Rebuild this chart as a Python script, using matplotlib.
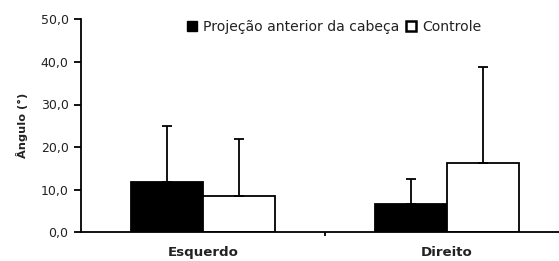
import numpy as np
import matplotlib
matplotlib.use("Agg")
import matplotlib.pyplot as plt
from matplotlib.patches import Patch

plt.rcParams['font.family'] = ['DejaVu Sans']

# Data
categories = ["Esquerdo", "Direito"]
projecao = [11.7, 6.6]
projecao_err = [13.2, 5.8]
controle = [8.5, 16.2]
controle_err = [13.3, 22.5]

fig = plt.figure(figsize=(5.59, 2.61), dpi=100)
ax = fig.add_axes([81/559, 28.7/261, 488/559, 213/261])

x = np.array([0.5, 1.5])
w = 0.295
lw = 1.3

ax.bar(x - w, projecao, w, align='edge', color='black', edgecolor='black', linewidth=lw)
ax.bar(x, controle, w, align='edge', color='white', edgecolor='black', linewidth=lw)
ax.errorbar(x - w/2, projecao, yerr=[np.zeros(2), projecao_err], fmt='none',
            ecolor='black', elinewidth=lw, capsize=3.6, capthick=lw)
ax.errorbar(x + w/2, controle, yerr=[np.zeros(2), controle_err], fmt='none',
            ecolor='black', elinewidth=lw, capsize=3.6, capthick=lw)

ax.set_xlim(0, 2)
ax.set_ylim(0, 50)
ax.set_yticks(np.arange(0, 51, 10))
ax.set_yticklabels([f"{v:.1f}".replace('.', ',') for v in np.arange(0, 51, 10)],
                   fontsize=9, color='#222222')
ax.set_xticks([1.0])
ax.set_xticklabels([])
ax.tick_params(axis='x', length=3, width=lw)
ax.tick_params(axis='y', length=5, width=lw, pad=4)
for i, c in enumerate(categories):
    ax.text(x[i], -3.3, c, ha='center', va='top', fontsize=9.6, fontweight='bold',
            color='#222222')

for s in ['top', 'right']:
    ax.spines[s].set_visible(False)
for s in ['left', 'bottom']:
    ax.spines[s].set_linewidth(lw)

ax.set_ylabel("Ângulo (°)", fontsize=8.2, fontweight='bold', labelpad=9,
              color='#222222')

handles = [Patch(facecolor='black', edgecolor='black', linewidth=1.0),
           Patch(facecolor='white', edgecolor='black', linewidth=1.8)]
fig.legend(handles, ["Projeção anterior da cabeça", "Controle"], loc='center left',
           bbox_to_anchor=(187/559, 1 - 27/261), ncol=2, frameon=False, fontsize=10.1,
           handlelength=0.7, handleheight=0.7, handletextpad=0.45, columnspacing=0.5,
           borderaxespad=0, borderpad=0, labelcolor='#222222')

fig.savefig("out.png", dpi=100)
